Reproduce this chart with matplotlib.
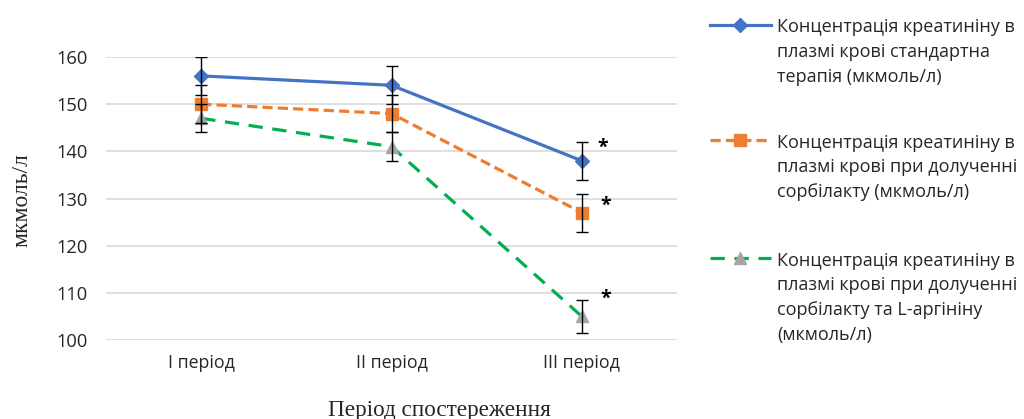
import matplotlib.pyplot as plt
from matplotlib.lines import Line2D

periods = ["I період", "II період", "III період"]

standard = [156, 154, 138]
standard_err = [4, 4, 4]

sorbilact = [150, 148, 127]
sorbilact_err = [4, 4, 4]

sorbilact_arg = [147, 141, 105]
sorbilact_arg_err = [3, 3, 3.5]

labels = [
    "Концентрація креатиніну в\nплазмі крові стандартна\nтерапія (мкмоль/л)",
    "Концентрація креатиніну в\nплазмі крові при долученні\nсорбілакту (мкмоль/л)",
    "Концентрація креатиніну в\nплазмі крові при долученні\nсорбілакту та L-аргініну\n(мкмоль/л)",
]

W, H = 1024, 419
fig = plt.figure(figsize=(W / 100, H / 100), dpi=100)
ax = fig.add_axes([106 / W, 1 - 340 / H, (677 - 106) / W, (340 - 57) / H])

sans = "Open Sans"
serif = "Liberation Serif"
text_color = "#262626"

x = list(range(len(periods)))

styles = [
    dict(color="#4472C4", ls="-", marker="D", ms=7, mfc="#4472C4", mec="#4472C4", lw=2.3),
    dict(color="#ED7D31", ls=(0, (3.2, 1.6)), marker="s", ms=8.5, mfc="#ED7D31", mec="#ED7D31", lw=2.3),
    dict(color="#00B050", ls=(0, (4.5, 3)), marker="^", ms=9, mfc="#A5A5A5", mec="#A5A5A5", lw=2.3),
]
series = [(standard, standard_err), (sorbilact, sorbilact_err), (sorbilact_arg, sorbilact_arg_err)]

for (vals, errs), st in zip(series, styles):
    ax.plot(x, vals, zorder=3, **st)
    ax.errorbar(x, vals, yerr=errs, fmt="none", ecolor="black", elinewidth=1,
                capsize=4.5, capthick=1, zorder=4)

# significance marks at the third period
star_offsets = [(15, 9), (17, 5), (17, 13)]
for (vals, _), (dx, dy) in zip(series, star_offsets):
    ax.annotate("*", (2, vals[2]), xytext=(dx, dy), textcoords="offset points",
                ha="center", va="center", fontsize=14, family=sans, fontweight="bold")

ax.set_xlim(-0.5, 2.5)
ax.set_ylim(100, 160)
ax.set_yticks(range(100, 161, 10))
ax.set_xticks(x)
ax.set_xticklabels(periods, fontsize=12.8, family=sans, color=text_color)
ax.tick_params(axis="y", labelsize=13.2, labelcolor=text_color, length=0, pad=13.5)
ax.tick_params(axis="x", length=0, pad=10)
for lbl in ax.get_yticklabels():
    lbl.set_family(sans)

ax.grid(axis="y", color="#D9D9D9", lw=1.2)
ax.set_axisbelow(True)
for s in ax.spines.values():
    s.set_visible(False)

fig.text(439 / W, 1 - 410 / H, "Період спостереження", ha="center", va="center",
         fontsize=16.7, family=serif, color=text_color)
fig.text(22 / W, 1 - 200 / H, "мкмоль/л", ha="center", va="center", rotation=90,
         fontsize=17, family=serif, color=text_color)

# legend drawn by hand so the key sits on the first line of each entry
legend_y = [25, 140, 258]
for st, lab, ly in zip(styles, labels, legend_y):
    yf = 1 - ly / H
    fig.add_artist(Line2D([710 / W, 740 / W, 771 / W], [yf, yf, yf], transform=fig.transFigure,
                          markevery=[1], **st))
    fig.text(777 / W, 1 - (ly - 6.5) / H, lab, ha="left", va="top", fontsize=13,
             family=sans, color=text_color, linespacing=1.49,
             transform=fig.transFigure)

fig.savefig("out.png", dpi=100)
